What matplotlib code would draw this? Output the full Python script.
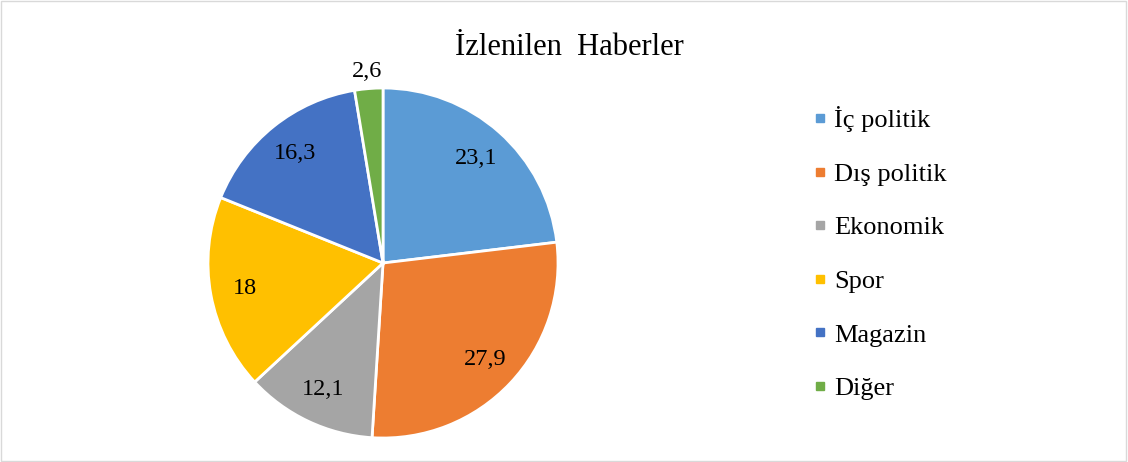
import matplotlib.pyplot as plt
from matplotlib.lines import Line2D
from matplotlib.patches import Rectangle

# veriler
kategoriler = ['İç politik', 'Dış politik', 'Ekonomik', 'Spor', 'Magazin', 'Diğer']
degerler = [23.1, 27.9, 12.1, 18, 16.3, 2.6]
renkler = ['#5B9BD5', '#ED7D31', '#A5A5A5', '#FFC000', '#4472C4', '#70AD47']

plt.rcParams['font.family'] = ['Liberation Serif', 'DejaVu Serif']


def etiket(p):
    s = f'{p:.1f}'.rstrip('0').rstrip('.')
    return s.replace('.', ',')


fig = plt.figure(figsize=(11.28, 4.62), dpi=100)
ax = fig.add_axes([0.1844, 0.0519, 0.3103, 0.7576])
wedges, texts, autotexts = ax.pie(degerler, colors=renkler, startangle=90, counterclock=False,
                                  autopct=etiket, pctdistance=0.8,
                                  wedgeprops=dict(edgecolor='white', linewidth=2),
                                  textprops=dict(fontsize=17.5, color='black'))
# küçük dilimin etiketi dışarıda
x, y = autotexts[-1].get_position()
autotexts[-1].set_position((x * 1.1 / 0.8, y * 1.1 / 0.8))
ax.set_xlim(-1, 1)
ax.set_ylim(-1, 1)

fig.text(0.505, 0.897, 'İzlenilen  Haberler', ha='center', va='center', fontsize=22)

handles = [Line2D([], [], marker='s', linestyle='none', markersize=6, color=c) for c in renkler]
fig.legend(handles, kategoriler, loc='center left', bbox_to_anchor=(0.694, 0.452), frameon=False,
           fontsize=19, labelspacing=1.14, handletextpad=0.05, handlelength=1.0)

fig.add_artist(Rectangle((0.001, 0.002), 0.997, 0.996, transform=fig.transFigure,
                         fill=False, edgecolor='#D9D9D9', linewidth=1))

fig.savefig('out.png', dpi=100)
